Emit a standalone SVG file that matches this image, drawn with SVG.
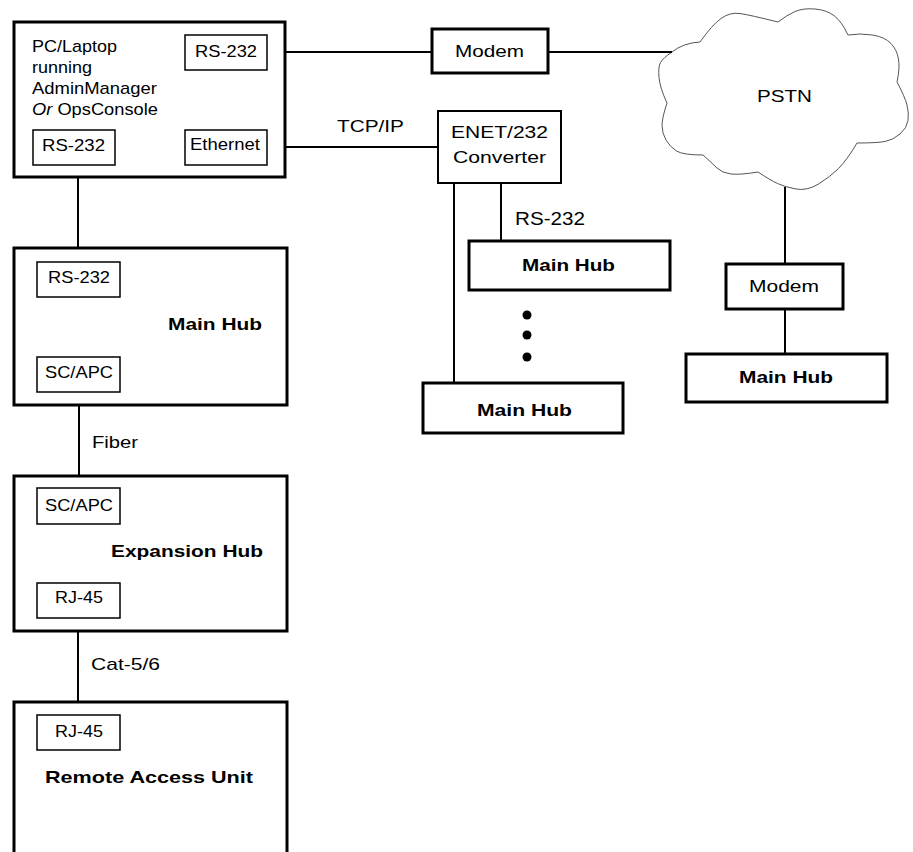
<svg xmlns="http://www.w3.org/2000/svg" width="913" height="852" viewBox="0 0 913 852">
<style>
.box{fill:#fff;stroke:#000;stroke-width:3}
.mid{fill:#fff;stroke:#000;stroke-width:2}
.port{fill:#fff;stroke:#000;stroke-width:1.5}
.conn line{stroke:#000;stroke-width:2}
text{font-family:"Liberation Sans",Arial,sans-serif;font-size:17px;fill:#000}
.b{font-weight:bold}
.cloud{fill:#fff;stroke:#555;stroke-width:1}
</style>
<rect width="913" height="852" fill="#fff"/>

<g id="pstn">
<path class="cloud" d="M672,52 Q683,43 700,42 Q712,25 721,18.5 Q730,12 740,13.5 Q750,15 778,22 Q787,15 795,11.5 Q803,8 815,9 Q827,10 834.5,16 Q842,22 848,35 Q860,33 872.5,35 Q885,37 891,43.5 Q897,50 898.5,59 Q900,68 897,82 Q905,97 907,105 Q909,113 908,120.5 Q907,128 900,134 Q893,140 885,141.5 Q877,143 857,143 Q847,160 838.5,168.5 Q830,177 818.5,184 Q807,191 796,189 Q785,187 777.5,183.5 Q770,180 758,172 Q740,175 731,174 Q722,173 717,168 Q712,163 703,155 Q683,155 676.5,151 Q670,147 666,140 Q662,133 662,125.5 Q662,118 667,103 Q660,88 659,77.5 Q658,67 660.5,62.5 Q663,58 672,52 Z"/>
<text x="757" y="102" textLength="55" lengthAdjust="spacingAndGlyphs">PSTN</text>
</g>

<g class="conn" id="connectors">
<line x1="267" y1="52" x2="432" y2="52"/>
<line x1="548" y1="52" x2="672" y2="52"/>
<line x1="267" y1="147" x2="438" y2="147"/>
<line x1="78" y1="165" x2="78" y2="262"/>
<line x1="501" y1="183" x2="501" y2="241"/>
<line x1="454" y1="183" x2="454" y2="383"/>
<line x1="785" y1="187" x2="785" y2="264"/>
<line x1="785" y1="309" x2="785" y2="354"/>
<line x1="79" y1="392" x2="79" y2="488"/>
<line x1="78" y1="618" x2="78" y2="715"/>
</g>

<g id="pc">
<rect class="box" x="14" y="22" width="271" height="155"/>
<text x="32" y="52" textLength="85" lengthAdjust="spacingAndGlyphs">PC/Laptop</text>
<text x="32" y="73" textLength="60" lengthAdjust="spacingAndGlyphs">running</text>
<text x="32" y="94" textLength="125" lengthAdjust="spacingAndGlyphs">AdminManager</text>
<text x="32" y="115" textLength="126" lengthAdjust="spacingAndGlyphs"><tspan font-style="italic">Or</tspan> OpsConsole</text>
<g id="pc-rs232-top"><rect class="port" x="185" y="35" width="82" height="35"/>
<text x="195" y="57" textLength="62" lengthAdjust="spacingAndGlyphs">RS-232</text></g>
<g id="pc-ethernet"><rect class="port" x="185" y="130" width="82" height="35"/>
<text x="190" y="150" textLength="70" lengthAdjust="spacingAndGlyphs">Ethernet</text></g>
<g id="pc-rs232-bottom"><rect class="port" x="33" y="130" width="82" height="35"/>
<text x="42" y="151" textLength="63" lengthAdjust="spacingAndGlyphs">RS-232</text></g>
</g>

<g id="modem1">
<rect class="box" x="432" y="29" width="116" height="44"/>
<text x="455" y="57" textLength="69" lengthAdjust="spacingAndGlyphs">Modem</text>
</g>

<text x="337" y="132" textLength="67" lengthAdjust="spacingAndGlyphs">TCP/IP</text>

<g id="enet">
<rect class="mid" x="438" y="111" width="123" height="72"/>
<text x="451" y="138" textLength="97" lengthAdjust="spacingAndGlyphs">ENET/232</text>
<text x="453" y="163" textLength="93" lengthAdjust="spacingAndGlyphs">Converter</text>
</g>

<text x="515" y="225" textLength="70" lengthAdjust="spacingAndGlyphs" style="font-size:18px">RS-232</text>

<g id="mainhub-mid">
<rect class="box" x="469" y="241" width="201" height="49"/>
<text class="b" x="522" y="271" textLength="93" lengthAdjust="spacingAndGlyphs">Main Hub</text>
</g>

<g id="dots">
<circle cx="527" cy="315" r="4.5"/>
<circle cx="527" cy="335" r="4.5"/>
<circle cx="527" cy="357" r="4.5"/>
</g>

<g id="mainhub-bottom">
<rect class="box" x="423" y="383" width="200" height="50"/>
<text class="b" x="477" y="416" textLength="95" lengthAdjust="spacingAndGlyphs">Main Hub</text>
</g>

<g id="modem2">
<rect class="box" x="726" y="264" width="117" height="45"/>
<text x="749" y="292" textLength="70" lengthAdjust="spacingAndGlyphs">Modem</text>
</g>

<g id="mainhub-right">
<rect class="box" x="686" y="354" width="201" height="48"/>
<text class="b" x="739" y="383" textLength="94" lengthAdjust="spacingAndGlyphs">Main Hub</text>
</g>

<g id="mainhub-left">
<rect class="box" x="14" y="248" width="273" height="157"/>
<rect class="port" x="37" y="262" width="83" height="35"/>
<text x="48" y="283" textLength="62" lengthAdjust="spacingAndGlyphs">RS-232</text>
<text class="b" x="168" y="330" textLength="94" lengthAdjust="spacingAndGlyphs">Main Hub</text>
<rect class="port" x="37" y="357" width="83" height="35"/>
<text x="45" y="378" textLength="68" lengthAdjust="spacingAndGlyphs">SC/APC</text>
</g>

<text x="92" y="448" textLength="46" lengthAdjust="spacingAndGlyphs">Fiber</text>

<g id="expansion-hub">
<rect class="box" x="14" y="476" width="273" height="155"/>
<rect class="port" x="37" y="488" width="83" height="36"/>
<text x="45" y="511" textLength="68" lengthAdjust="spacingAndGlyphs">SC/APC</text>
<text class="b" x="111" y="557" textLength="152" lengthAdjust="spacingAndGlyphs">Expansion Hub</text>
<rect class="port" x="37" y="583" width="83" height="35"/>
<text x="55" y="603" textLength="48" lengthAdjust="spacingAndGlyphs">RJ-45</text>
</g>

<text x="91" y="670" textLength="69" lengthAdjust="spacingAndGlyphs">Cat-5/6</text>

<g id="remote-access-unit">
<rect class="box" x="14" y="702" width="273" height="200"/>
<rect class="port" x="37" y="715" width="83" height="35"/>
<text x="55" y="737" textLength="48" lengthAdjust="spacingAndGlyphs">RJ-45</text>
<text class="b" x="45" y="783" textLength="208" lengthAdjust="spacingAndGlyphs">Remote Access Unit</text>
</g>
</svg>
